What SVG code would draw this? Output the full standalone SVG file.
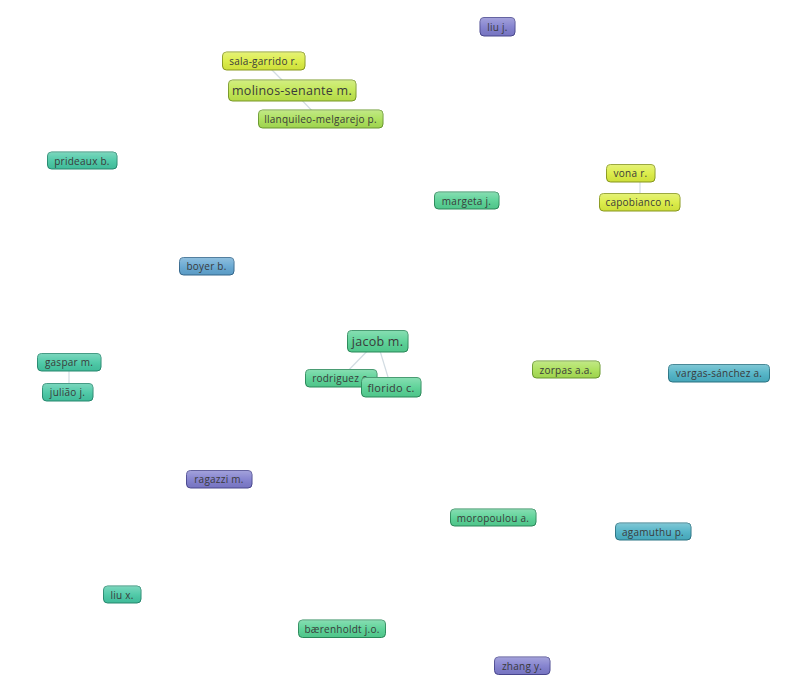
<svg xmlns="http://www.w3.org/2000/svg" width="797" height="679" viewBox="0 0 797 679">
<defs>
<linearGradient id="gloss" x1="0" y1="0" x2="0" y2="1">
<stop offset="0" stop-color="#fff" stop-opacity="0.3"/>
<stop offset="0.5" stop-color="#fff" stop-opacity="0.08"/>
<stop offset="1" stop-color="#000" stop-opacity="0.05"/>
</linearGradient>
</defs>
<style>
.n rect.b{stroke-width:1}
.n rect.g{fill:url(#gloss);stroke:none}
.n text{font-family:"Open Sans","Noto Sans",sans-serif;font-size:10px;fill:#3a3a3a;text-anchor:middle;dominant-baseline:central;letter-spacing:0.25px}
.n text.big{font-size:12.5px}
.pu{fill:#7d7bcc;stroke:#4a4890}
.ye{fill:#daec3e;stroke:#8a9a1e}
.yg{fill:#bfe64c;stroke:#7a9a28}
.lg{fill:#a8df54;stroke:#6a9a2e}
.gr{fill:#54d092;stroke:#2a8a5a}
.te{fill:#44c6a2;stroke:#268a70}
.bl{fill:#60a4d0;stroke:#35688e}
.cy{fill:#4ab0c4;stroke:#2a7484}
#edges line{stroke:#d2dce2;stroke-width:1.2}
</style>
<rect width="797" height="679" fill="#fff"/>
<g id="edges">
<line x1="263" y1="61" x2="292" y2="90"/>
<line x1="292" y1="90" x2="320" y2="119"/>
<line x1="640" y1="173" x2="640" y2="202"/>
<line x1="69" y1="362" x2="69" y2="392"/>
<line x1="377" y1="341" x2="341" y2="378"/>
<line x1="377" y1="341" x2="391" y2="387"/>
</g>
<g id="liu-j" class="n"><rect class="b pu" x="480" y="17.5" width="35" height="18.5" rx="4"/><rect class="g" x="480" y="17.5" width="35" height="18.5" rx="4"/><text x="497.5" y="27">liu j.</text></g>
<g id="sala-garrido-r" class="n"><rect class="b ye" x="222.5" y="52" width="82.5" height="18" rx="4"/><rect class="g" x="222.5" y="52" width="82.5" height="18" rx="4"/><text x="263.5" y="61">sala-garrido r.</text></g>
<g id="molinos-senante-m" class="n"><rect class="b yg" x="228.5" y="80" width="127.5" height="21" rx="4"/><rect class="g" x="228.5" y="80" width="127.5" height="21" rx="4"/><text class="big" x="292" y="90.5">molinos-senante m.</text></g>
<g id="llanquileo-melgarejo-p" class="n"><rect class="b lg" x="258.5" y="110" width="124.5" height="18" rx="4"/><rect class="g" x="258.5" y="110" width="124.5" height="18" rx="4"/><text x="320.5" y="119">llanquileo-melgarejo p.</text></g>
<g id="prideaux-b" class="n"><rect class="b te" x="47.5" y="152" width="69.5" height="17" rx="4"/><rect class="g" x="47.5" y="152" width="69.5" height="17" rx="4"/><text x="82" y="160.5">prideaux b.</text></g>
<g id="margeta-j" class="n"><rect class="b gr" x="434.5" y="192" width="64.5" height="17" rx="4"/><rect class="g" x="434.5" y="192" width="64.5" height="17" rx="4"/><text x="466.5" y="200.5">margeta j.</text></g>
<g id="vona-r" class="n"><rect class="b ye" x="606.5" y="164.5" width="48.5" height="17.5" rx="4"/><rect class="g" x="606.5" y="164.5" width="48.5" height="17.5" rx="4"/><text x="630.5" y="173">vona r.</text></g>
<g id="capobianco-n" class="n"><rect class="b ye" x="599.5" y="193.5" width="80.5" height="17.5" rx="4"/><rect class="g" x="599.5" y="193.5" width="80.5" height="17.5" rx="4"/><text x="639.5" y="202">capobianco n.</text></g>
<g id="boyer-b" class="n"><rect class="b bl" x="179.5" y="257.5" width="54.5" height="17.5" rx="4"/><rect class="g" x="179.5" y="257.5" width="54.5" height="17.5" rx="4"/><text x="206.5" y="266">boyer b.</text></g>
<g id="rodriguez-c" class="n"><rect class="b gr" x="305.5" y="369.5" width="71.5" height="17.5" rx="4"/><rect class="g" x="305.5" y="369.5" width="71.5" height="17.5" rx="4"/><text x="341" y="378">rodriguez c.</text></g>
<g id="florido-c" class="n"><rect class="b gr" x="361.5" y="377.5" width="59.5" height="19.5" rx="4"/><rect class="g" x="361.5" y="377.5" width="59.5" height="19.5" rx="4"/><text x="391" y="387.5" style="font-size:11px">florido c.</text></g>
<g id="jacob-m" class="n"><rect class="b gr" x="347.5" y="330.5" width="60.5" height="21.5" rx="4"/><rect class="g" x="347.5" y="330.5" width="60.5" height="21.5" rx="4"/><text class="big" x="377.5" y="341">jacob m.</text></g>
<g id="gaspar-m" class="n"><rect class="b te" x="37.5" y="353.5" width="63.5" height="17.5" rx="4"/><rect class="g" x="37.5" y="353.5" width="63.5" height="17.5" rx="4"/><text x="69" y="362">gaspar m.</text></g>
<g id="juliao-j" class="n"><rect class="b te" x="42.5" y="383.5" width="50.5" height="17.5" rx="4"/><rect class="g" x="42.5" y="383.5" width="50.5" height="17.5" rx="4"/><text x="67.5" y="392">julião j.</text></g>
<g id="zorpas-aa" class="n"><rect class="b lg" x="532.5" y="361" width="67.5" height="17" rx="4"/><rect class="g" x="532.5" y="361" width="67.5" height="17" rx="4"/><text x="566" y="369.5">zorpas a.a.</text></g>
<g id="vargas-sanchez-a" class="n"><rect class="b cy" x="668.5" y="364.5" width="101" height="17.5" rx="4"/><rect class="g" x="668.5" y="364.5" width="101" height="17.5" rx="4"/><text x="719" y="373">vargas-sánchez a.</text></g>
<g id="ragazzi-m" class="n"><rect class="b pu" x="186.5" y="470.5" width="65.5" height="17.5" rx="4"/><rect class="g" x="186.5" y="470.5" width="65.5" height="17.5" rx="4"/><text x="219" y="479">ragazzi m.</text></g>
<g id="moropoulou-a" class="n"><rect class="b gr" x="450.5" y="509" width="85.5" height="17" rx="4"/><rect class="g" x="450.5" y="509" width="85.5" height="17" rx="4"/><text x="493" y="517.5">moropoulou a.</text></g>
<g id="agamuthu-p" class="n"><rect class="b cy" x="615.5" y="523" width="75.5" height="17" rx="4"/><rect class="g" x="615.5" y="523" width="75.5" height="17" rx="4"/><text x="653" y="531.5">agamuthu p.</text></g>
<g id="liu-x" class="n"><rect class="b te" x="103.5" y="586" width="37.5" height="17" rx="4"/><rect class="g" x="103.5" y="586" width="37.5" height="17" rx="4"/><text x="122" y="594.5">liu x.</text></g>
<g id="baerenholdt-jo" class="n"><rect class="b gr" x="298.5" y="620" width="87" height="17.5" rx="4"/><rect class="g" x="298.5" y="620" width="87" height="17.5" rx="4"/><text x="342" y="628.5">bærenholdt j.o.</text></g>
<g id="zhang-y" class="n"><rect class="b pu" x="494.5" y="657" width="55.5" height="17.5" rx="4"/><rect class="g" x="494.5" y="657" width="55.5" height="17.5" rx="4"/><text x="522" y="665.5">zhang y.</text></g>
</svg>
